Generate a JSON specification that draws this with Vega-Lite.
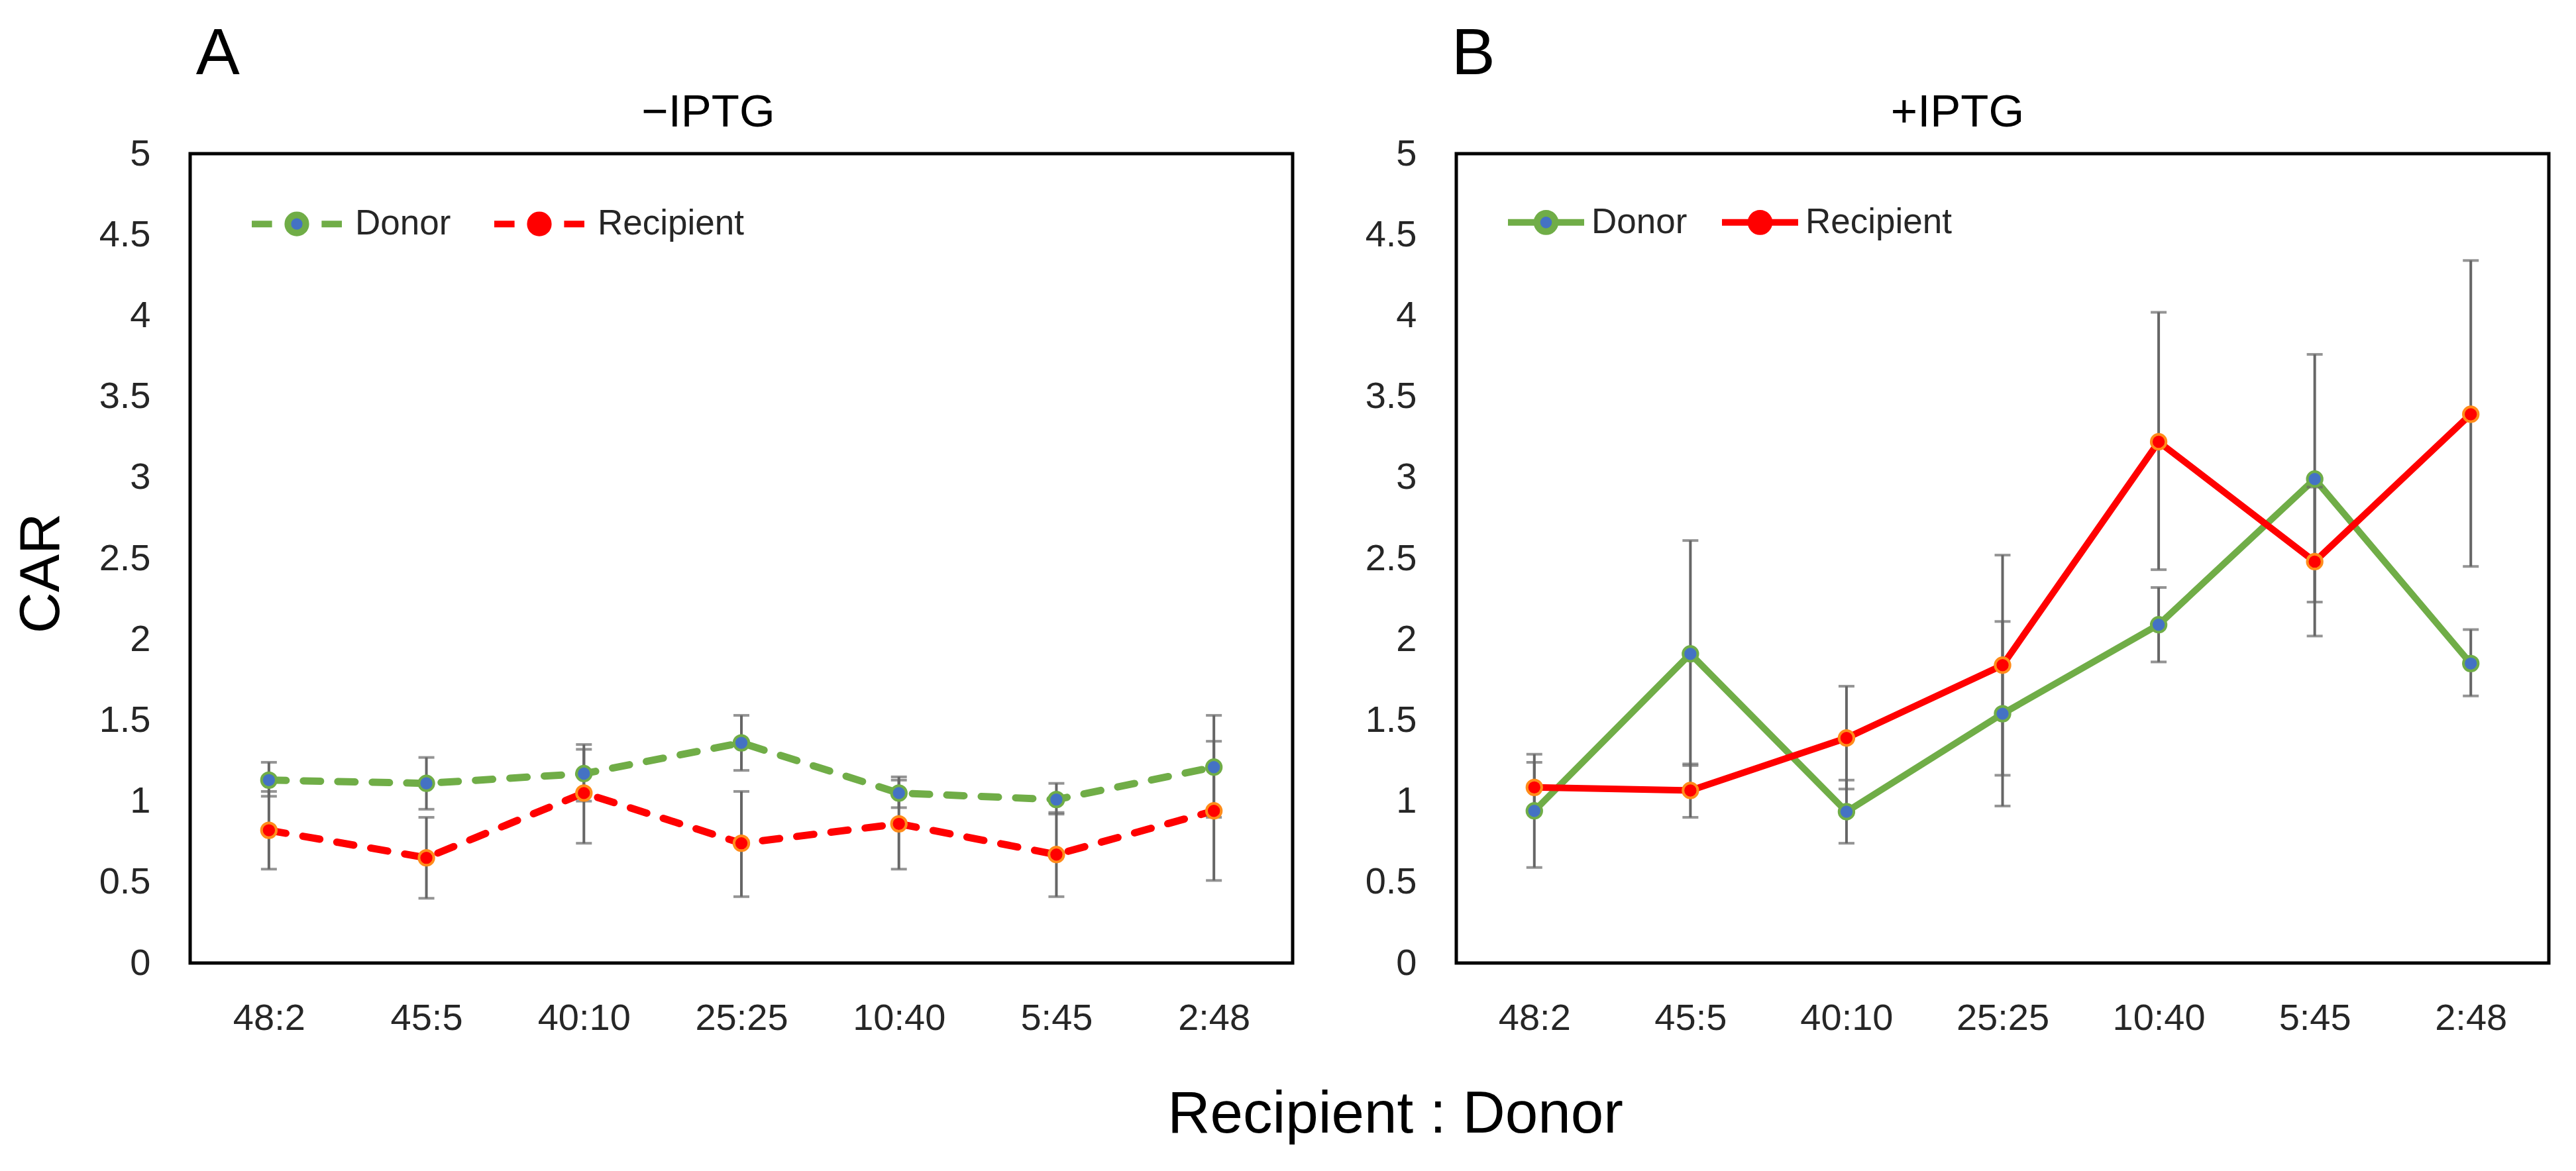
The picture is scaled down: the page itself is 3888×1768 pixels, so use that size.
{
  "$schema": "https://vega.github.io/schema/vega-lite/v6.json",
  "background": "white",
  "padding": {"left": 16, "top": 32, "right": 0, "bottom": 0},
  "data": {
    "values": [
      {"panel": "A", "ratio": "48:2", "series": "Donor", "car": 1.13, "lo": 1.03, "hi": 1.24},
      {"panel": "A", "ratio": "45:5", "series": "Donor", "car": 1.11, "lo": 0.95, "hi": 1.27},
      {"panel": "A", "ratio": "40:10", "series": "Donor", "car": 1.17, "lo": 1.0, "hi": 1.35},
      {"panel": "A", "ratio": "25:25", "series": "Donor", "car": 1.36, "lo": 1.19, "hi": 1.53},
      {"panel": "A", "ratio": "10:40", "series": "Donor", "car": 1.05, "lo": 0.96, "hi": 1.15},
      {"panel": "A", "ratio": "5:45", "series": "Donor", "car": 1.01, "lo": 0.92, "hi": 1.11},
      {"panel": "A", "ratio": "2:48", "series": "Donor", "car": 1.21, "lo": 0.9, "hi": 1.53},
      {"panel": "A", "ratio": "48:2", "series": "Recipient", "car": 0.82, "lo": 0.58, "hi": 1.06},
      {"panel": "A", "ratio": "45:5", "series": "Recipient", "car": 0.65, "lo": 0.4, "hi": 0.9},
      {"panel": "A", "ratio": "40:10", "series": "Recipient", "car": 1.05, "lo": 0.74, "hi": 1.32},
      {"panel": "A", "ratio": "25:25", "series": "Recipient", "car": 0.74, "lo": 0.41, "hi": 1.06},
      {"panel": "A", "ratio": "10:40", "series": "Recipient", "car": 0.86, "lo": 0.58, "hi": 1.13},
      {"panel": "A", "ratio": "5:45", "series": "Recipient", "car": 0.67, "lo": 0.41, "hi": 0.93},
      {"panel": "A", "ratio": "2:48", "series": "Recipient", "car": 0.94, "lo": 0.51, "hi": 1.37},
      {"panel": "B", "ratio": "48:2", "series": "Donor", "car": 0.94, "lo": 0.59, "hi": 1.29},
      {"panel": "B", "ratio": "45:5", "series": "Donor", "car": 1.91, "lo": 1.22, "hi": 2.61},
      {"panel": "B", "ratio": "40:10", "series": "Donor", "car": 0.935, "lo": 0.74, "hi": 1.13},
      {"panel": "B", "ratio": "25:25", "series": "Donor", "car": 1.54, "lo": 0.97, "hi": 2.11},
      {"panel": "B", "ratio": "10:40", "series": "Donor", "car": 2.09, "lo": 1.86, "hi": 2.32},
      {"panel": "B", "ratio": "5:45", "series": "Donor", "car": 2.99, "lo": 2.23, "hi": 3.76},
      {"panel": "B", "ratio": "2:48", "series": "Donor", "car": 1.85, "lo": 1.65, "hi": 2.06},
      {"panel": "B", "ratio": "48:2", "series": "Recipient", "car": 1.085, "lo": 0.93, "hi": 1.24},
      {"panel": "B", "ratio": "45:5", "series": "Recipient", "car": 1.066, "lo": 0.9, "hi": 1.23},
      {"panel": "B", "ratio": "40:10", "series": "Recipient", "car": 1.39, "lo": 1.075, "hi": 1.71},
      {"panel": "B", "ratio": "25:25", "series": "Recipient", "car": 1.84, "lo": 1.16, "hi": 2.52},
      {"panel": "B", "ratio": "10:40", "series": "Recipient", "car": 3.22, "lo": 2.43, "hi": 4.02},
      {"panel": "B", "ratio": "5:45", "series": "Recipient", "car": 2.48, "lo": 2.02, "hi": 2.94},
      {"panel": "B", "ratio": "2:48", "series": "Recipient", "car": 3.39, "lo": 2.45, "hi": 4.34}
    ]
  },
  "title": {
    "text": "Recipient : Donor",
    "orient": "bottom",
    "anchor": "middle",
    "fontSize": 89,
    "dx": 173,
    "offset": 72
  },
  "spacing": 103,
  "resolve": {
    "scale": {"color": "independent", "fill": "independent", "stroke": "independent"},
    "legend": {"color": "independent"}
  },
  "hconcat": [
    {
      "title": {"text": "A", "anchor": "start", "fontSize": 99, "dx": 279, "offset": 1},
      "vconcat": [
        {
          "width": 1664,
          "height": 1222,
          "title": {"text": "−IPTG", "fontSize": 69, "anchor": "middle", "dx": -50, "offset": -1},
          "transform": [{"filter": "datum.panel === 'A'"}],
          "encoding": {
            "x": {
              "field": "ratio", "type": "ordinal",
              "sort": ["48:2", "45:5", "40:10", "25:25", "10:40", "5:45", "2:48"],
              "scale": {"type": "point", "padding": 0.5},
              "axis": {"title": null, "labelAngle": 0, "labelPadding": 56}
            }
          },
          "layer": [
            {
              "mark": {"type": "line", "strokeWidth": 11, "strokeDash": [26, 26], "strokeCap": "round"},
              "encoding": {
                "y": {
                  "field": "car", "type": "quantitative", "title": "CAR",
                  "scale": {"domain": [0, 5], "nice": false},
                  "axis": {"values": [0, 0.5, 1, 1.5, 2, 2.5, 3, 3.5, 4, 4.5, 5], "format": "~g", "titleFontSize": 86, "titleFont": "Liberation Sans", "titleFontWeight": "normal", "titleColor": "black", "titlePadding": 43, "titleY": 633}
                },
                "color": {
                  "field": "series", "type": "nominal",
                  "scale": {"domain": ["Donor", "Recipient"], "range": ["#70AD47", "#FF0000"]},
                  "legend": {
                    "title": null, "orient": "none", "direction": "horizontal",
                    "legendX": 88, "legendY": 33,
                    "symbolType": "M-1,0L-0.55,0M0.55,0L1,0M-0.2,0A0.2,0.2 0 1,1 0.2,0A0.2,0.2 0 1,1 -0.2,0Z",
                    "symbolSize": 18496, "symbolStrokeWidth": 10, "symbolDash": [],
                    "labelFontSize": 53, "labelFont": "Liberation Sans", "labelColor": "#262626", "labelLimit": 0,
                    "labelOffset": 15, "columnPadding": 45,
                    "encode": {"symbols": {"update": {"fill": {"signal": "datum.value === 'Donor' ? '#4472C4' : '#FF0000'"}, "opacity": {"value": 1}}}}
                  }
                }
              }
            },
            {
              "mark": {"type": "errorbar", "ticks": {"size": 24, "thickness": 4, "color": "#666666"}, "rule": {"strokeWidth": 4, "color": "#666666"}},
              "encoding": {
                "y": {"field": "lo", "type": "quantitative", "title": "CAR"},
                "y2": {"field": "hi"}
              }
            },
            {
              "mark": {"type": "circle", "size": 500, "strokeWidth": 4, "opacity": 1},
              "encoding": {
                "y": {"field": "car", "type": "quantitative", "title": "CAR"},
                "fill": {"field": "series", "type": "nominal", "scale": {"domain": ["Donor", "Recipient"], "range": ["#4472C4", "#FF0000"]}, "legend": null},
                "stroke": {"field": "series", "type": "nominal", "scale": {"domain": ["Donor", "Recipient"], "range": ["#70AD47", "#FF8C1A"]}, "legend": null}
              }
            }
          ]
        }
      ]
    },
    {
      "title": {"text": "B", "anchor": "start", "fontSize": 99, "dx": 133, "offset": 1},
      "vconcat": [
        {
          "width": 1649,
          "height": 1222,
          "title": {"text": "+IPTG", "fontSize": 69, "anchor": "middle", "dx": -68, "offset": -1},
          "transform": [{"filter": "datum.panel === 'B'"}],
          "encoding": {
            "x": {
              "field": "ratio", "type": "ordinal",
              "sort": ["48:2", "45:5", "40:10", "25:25", "10:40", "5:45", "2:48"],
              "scale": {"type": "point", "padding": 0.5},
              "axis": {"title": null, "labelAngle": 0, "labelPadding": 56}
            }
          },
          "layer": [
            {
              "mark": {"type": "line", "strokeWidth": 10},
              "encoding": {
                "y": {
                  "field": "car", "type": "quantitative", "title": null,
                  "scale": {"domain": [0, 5], "nice": false},
                  "axis": {"values": [0, 0.5, 1, 1.5, 2, 2.5, 3, 3.5, 4, 4.5, 5], "format": "~g"}
                },
                "color": {
                  "field": "series", "type": "nominal",
                  "scale": {"domain": ["Donor", "Recipient"], "range": ["#70AD47", "#FF0000"]},
                  "legend": {
                    "title": null, "orient": "none", "direction": "horizontal",
                    "legendX": 73, "legendY": 41,
                    "symbolType": "M-1,0L-0.26,0M0.26,0L1,0M-0.24,0A0.24,0.24 0 1,1 0.24,0A0.24,0.24 0 1,1 -0.24,0Z",
                    "symbolSize": 13225, "symbolStrokeWidth": 10, "symbolDash": [],
                    "labelFontSize": 53, "labelFont": "Liberation Sans", "labelColor": "#262626", "labelLimit": 0,
                    "labelOffset": 6, "columnPadding": 32,
                    "encode": {"symbols": {"update": {"fill": {"signal": "datum.value === 'Donor' ? '#4472C4' : '#FF0000'"}, "opacity": {"value": 1}}}}
                  }
                }
              }
            },
            {
              "mark": {"type": "errorbar", "ticks": {"size": 24, "thickness": 4, "color": "#666666"}, "rule": {"strokeWidth": 4, "color": "#666666"}},
              "encoding": {
                "y": {"field": "lo", "type": "quantitative", "title": null},
                "y2": {"field": "hi"}
              }
            },
            {
              "mark": {"type": "circle", "size": 500, "strokeWidth": 4, "opacity": 1},
              "encoding": {
                "y": {"field": "car", "type": "quantitative", "title": null},
                "fill": {"field": "series", "type": "nominal", "scale": {"domain": ["Donor", "Recipient"], "range": ["#4472C4", "#FF0000"]}, "legend": null},
                "stroke": {"field": "series", "type": "nominal", "scale": {"domain": ["Donor", "Recipient"], "range": ["#70AD47", "#FF8C1A"]}, "legend": null}
              }
            }
          ]
        }
      ]
    }
  ],
  "config": {
    "font": "Liberation Sans",
    "view": {"stroke": "black", "strokeWidth": 5},
    "title": {"font": "Liberation Sans", "fontWeight": "normal", "color": "black"},
    "axis": {
      "domain": false, "ticks": false, "tickSize": 0, "grid": false,
      "labelFont": "Liberation Sans", "labelFontSize": 56, "labelColor": "#262626",
      "labelPadding": 60
    }
  }
}
